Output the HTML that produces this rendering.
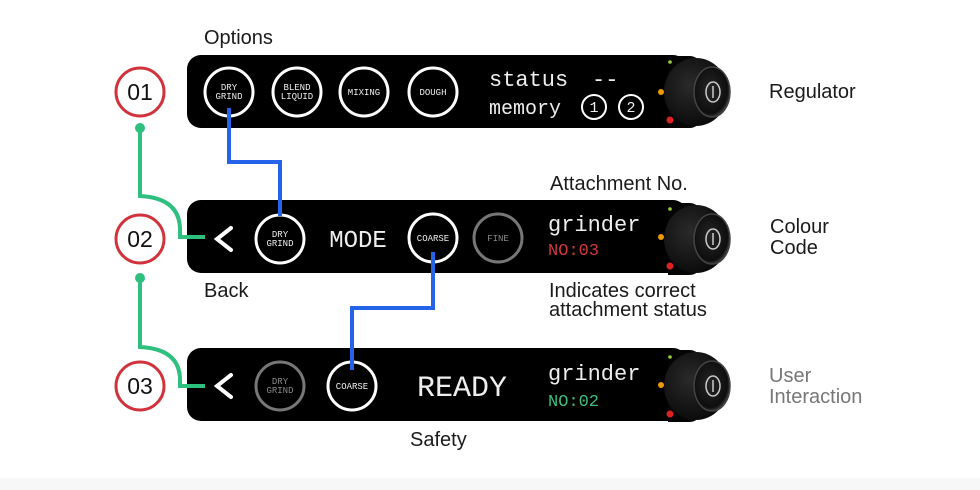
<!DOCTYPE html>
<html><head><meta charset="utf-8"><style>
html,body{margin:0;padding:0;background:#fff;}
svg{display:block}
.lbl{font-family:"Liberation Sans",sans-serif;font-size:20px;fill:#1a1a1a}
.mono{font-family:"Liberation Mono",monospace;fill:#eee}
</style></head><body>
<svg width="980" height="490" viewBox="0 0 980 490" xmlns="http://www.w3.org/2000/svg">
<rect width="980" height="490" fill="#fff"/>
<rect x="0" y="478" width="980" height="12" fill="#f7f7f7"/>
<defs>
<radialGradient id="kb" cx="0.4" cy="0.4" r="0.7"><stop offset="0" stop-color="#2a2a2a"/><stop offset="1" stop-color="#070707"/></radialGradient>
<radialGradient id="kf" cx="0.45" cy="0.45" r="0.6"><stop offset="0" stop-color="#262626"/><stop offset="0.8" stop-color="#0e0e0e"/><stop offset="1" stop-color="#555"/></radialGradient>
<g id="knob">
<path d="M0,-36 L22,-36 Q28,-36 32,-30 L32,30 Q28,36 22,36 L0,36 Z" fill="#050505"/>
<ellipse cx="28" cy="0" rx="32" ry="34" fill="url(#kb)"/>
<ellipse cx="44" cy="0" rx="18" ry="25" fill="url(#kf)" stroke="#444" stroke-width="1.5"/>
<ellipse cx="45" cy="0" rx="7" ry="10" fill="none" stroke="#ccc" stroke-width="1.5"/>
<line x1="45" y1="-6" x2="45" y2="6" stroke="#ccc" stroke-width="1.5"/>
</g>
</defs>
<rect x="187" y="55" width="500" height="73" rx="14" fill="#000"/>
<rect x="187" y="200" width="500" height="73" rx="14" fill="#000"/>
<rect x="187" y="348" width="500" height="73" rx="14" fill="#000"/>
<g transform="translate(668,92)"><use href="#knob"/></g>
<g transform="translate(668,239)"><use href="#knob"/></g>
<g transform="translate(668,386)"><use href="#knob"/></g>
<g>
<circle cx="670" cy="62" r="1.8" fill="#9c3"/><circle cx="661" cy="92" r="3" fill="#e90"/><circle cx="670" cy="120" r="3.5" fill="#d22"/>
<circle cx="670" cy="209" r="1.8" fill="#9c3"/><circle cx="661" cy="237" r="3" fill="#e90"/><circle cx="670" cy="266" r="3.5" fill="#d22"/>
<circle cx="670" cy="357" r="1.8" fill="#9c3"/><circle cx="661" cy="385" r="3" fill="#e90"/><circle cx="670" cy="414" r="3.5" fill="#d22"/>
</g>
<g font-family="Liberation Sans,sans-serif" font-size="23" text-anchor="middle" fill="#111">
<circle cx="140" cy="92" r="24" fill="#fff" stroke="#d0333b" stroke-width="3"/><text x="140" y="100">01</text>
<circle cx="140" cy="239" r="24" fill="#fff" stroke="#d0333b" stroke-width="3"/><text x="140" y="247">02</text>
<circle cx="140" cy="386" r="24" fill="#fff" stroke="#d0333b" stroke-width="3"/><text x="140" y="394">03</text>
</g>
<g stroke="#2fbf7f" stroke-width="4" fill="none">
<path d="M140,129 L140,196 Q180,198 180,230 L180,237 L205,237"/>
<path d="M140,279 L140,347 Q180,349 180,380 L180,386 L205,386"/>
</g>
<circle cx="140" cy="128" r="5" fill="#2fbf7f"/>
<circle cx="140" cy="278" r="5" fill="#2fbf7f"/>
<g fill="none" stroke="#fff" stroke-width="3">
<circle cx="229" cy="92" r="24"/><circle cx="297" cy="92" r="24"/><circle cx="364" cy="92" r="24"/><circle cx="433" cy="92" r="24"/>
<circle cx="280" cy="239" r="24"/><circle cx="433" cy="238" r="24"/>
<circle cx="352" cy="386" r="24"/>
</g>
<g fill="none" stroke="#777" stroke-width="3">
<circle cx="498" cy="238" r="24"/><circle cx="280" cy="386" r="24"/>
</g>
<g class="mono" font-size="9" text-anchor="middle">
<text x="229" y="90">DRY</text><text x="229" y="99">GRIND</text>
<text x="297" y="90">BLEND</text><text x="297" y="99">LIQUID</text>
<text x="364" y="95">MIXING</text>
<text x="433" y="95">DOUGH</text>
<text x="280" y="237">DRY</text><text x="280" y="246">GRIND</text>
<text x="433" y="241">COARSE</text>
<text x="498" y="241" fill="#888">FINE</text>
<text x="280" y="384" fill="#888">DRY</text><text x="280" y="393" fill="#888">GRIND</text>
<text x="352" y="389">COARSE</text>
</g>
<g class="mono">
<text x="489" y="86" font-size="22">status</text><text x="592" y="86" font-size="22">--</text>
<text x="489" y="114" font-size="20">memory</text>
<text x="358" y="247" font-size="24" text-anchor="middle">MODE</text>
<text x="462" y="396" font-size="30" text-anchor="middle">READY</text>
<text x="548" y="231" font-size="22">grinder</text>
<text x="548" y="255" font-size="17" fill="#d23a3a">NO:03</text>
<text x="548" y="380" font-size="22">grinder</text>
<text x="548" y="406" font-size="17" fill="#3bbf7f">NO:02</text>
</g>
<g fill="none" stroke="#fff" stroke-width="2">
<circle cx="594" cy="107" r="12"/><circle cx="631" cy="107" r="12"/>
</g>
<g class="mono" font-size="15" text-anchor="middle"><text x="594" y="112">1</text><text x="631" y="112">2</text></g>
<g stroke="#fff" stroke-width="4" fill="none" stroke-linecap="round">
<path d="M231,228 L217,239 L231,250"/>
<path d="M231,375 L217,386 L231,397"/>
</g>
<g stroke="#2563e8" stroke-width="4" fill="none">
<path d="M229,108 L229,162 L280,162 L280,216"/>
<path d="M433,252 L433,308 L352,308 L352,370"/>
</g>
<text class="lbl" x="204" y="44">Options</text>
<text class="lbl" x="769" y="98">Regulator</text>
<text class="lbl" x="550" y="190">Attachment No.</text>
<text class="lbl" x="770" y="233">Colour</text><text class="lbl" x="770" y="254">Code</text>
<text class="lbl" x="204" y="297">Back</text>
<text class="lbl" x="549" y="297">Indicates correct</text><text class="lbl" x="549" y="316">attachment status</text>
<text class="lbl" x="410" y="446">Safety</text>
<text class="lbl" x="769" y="382" style="fill:#777">User</text><text class="lbl" x="769" y="403" style="fill:#777">Interaction</text>
</svg>
</body></html>
